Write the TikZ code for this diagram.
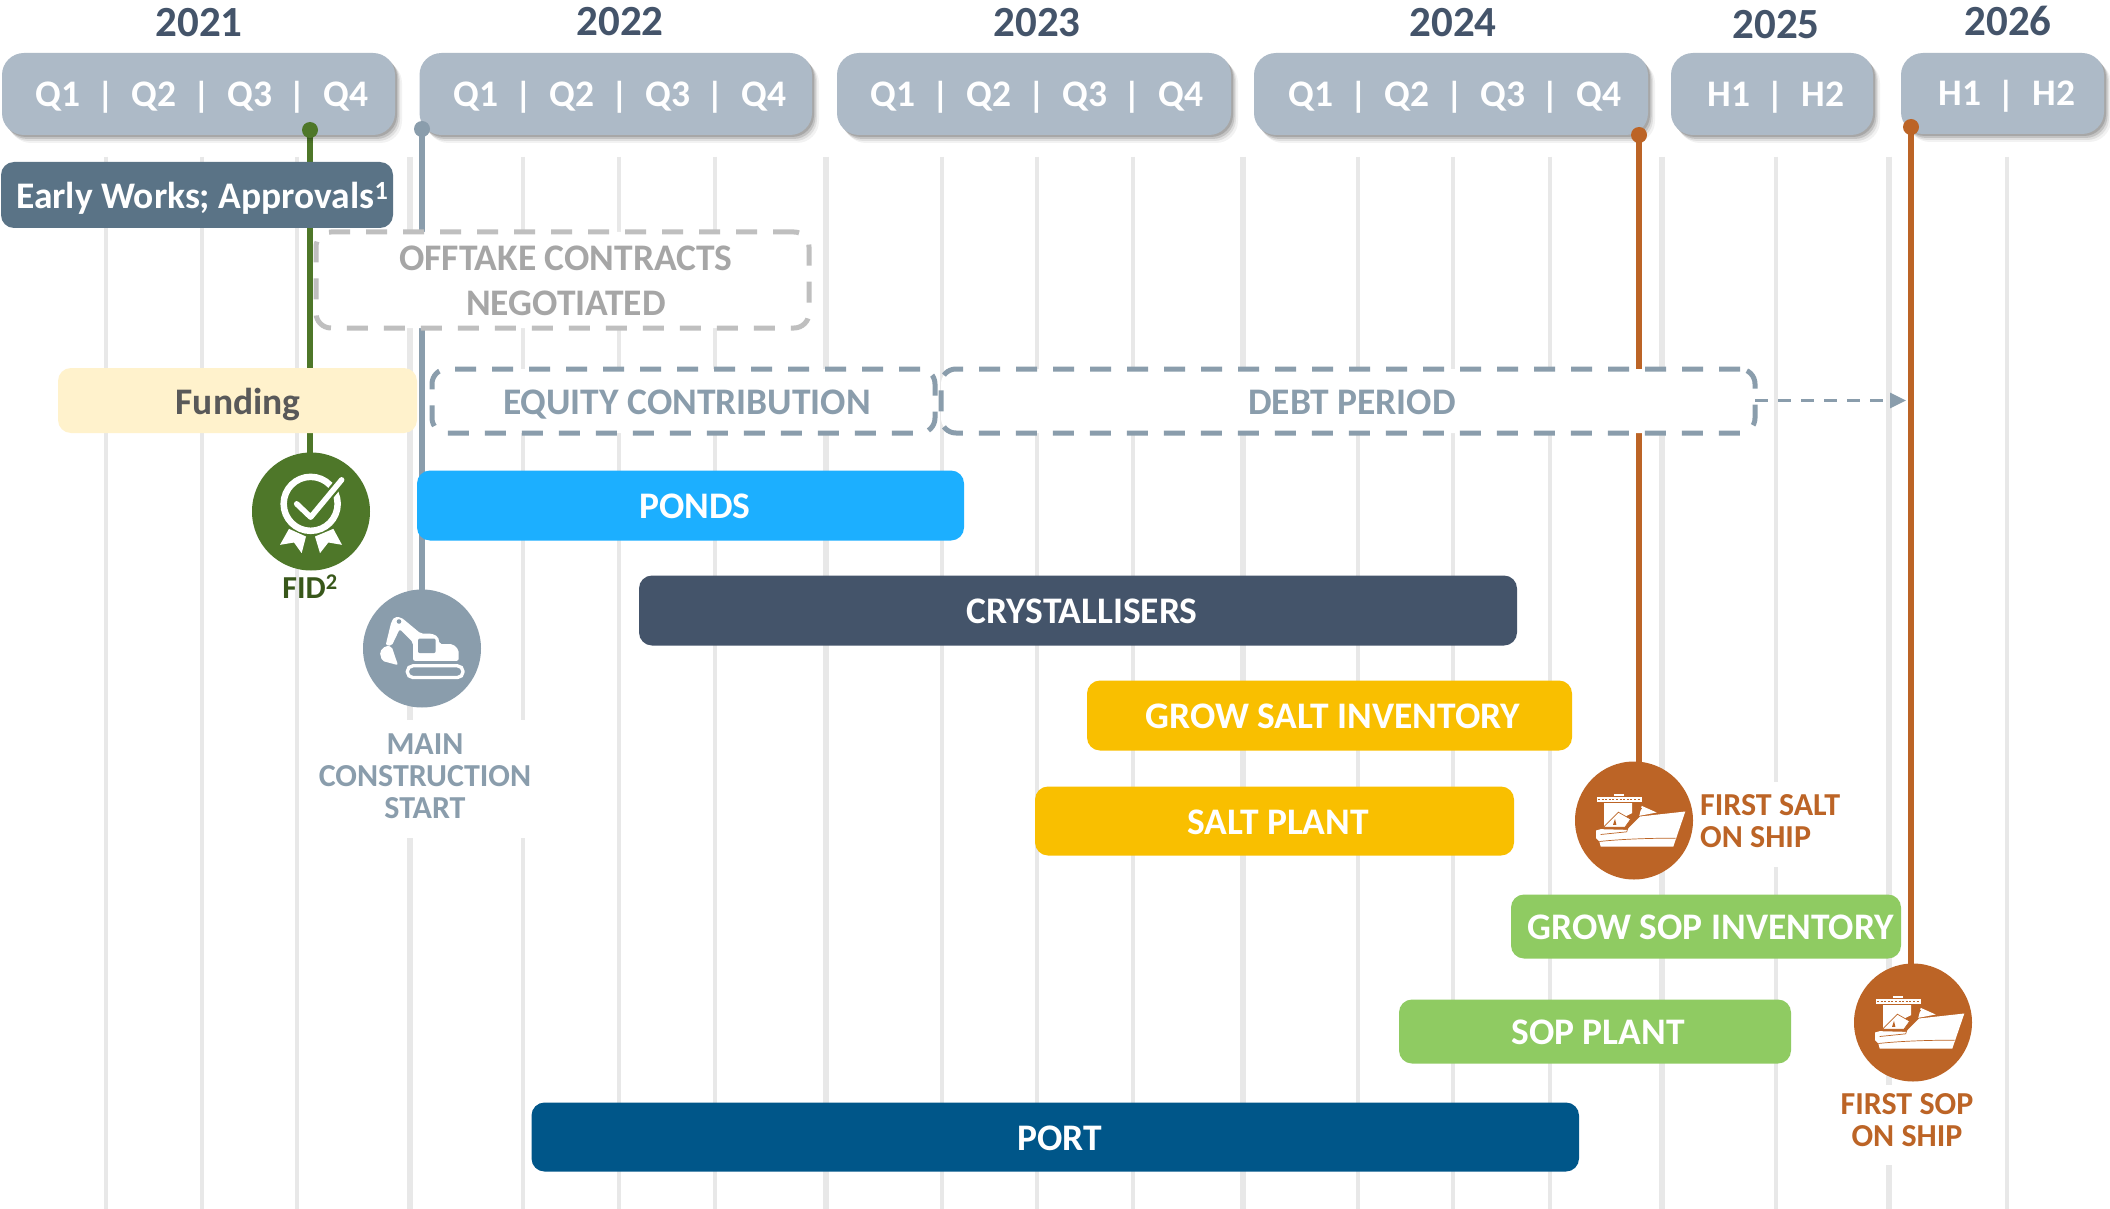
\documentclass[tikz,border=0pt]{standalone}
\usepackage{fontspec}
\setmainfont{Carlito}
\usetikzlibrary{shadows,arrows.meta}
\definecolor{hdrc}{HTML}{ADBAC7}
\definecolor{yearc}{HTML}{44546A}
\definecolor{gridc}{HTML}{E8E8E8}
\definecolor{earlyc}{HTML}{5A7386}
\definecolor{fundc}{HTML}{FFF2CC}
\definecolor{fundt}{HTML}{595959}
\definecolor{slatec}{HTML}{8A9DAC}
\definecolor{offb}{HTML}{BFBFBF}
\definecolor{offt}{HTML}{A6A6A6}
\definecolor{pondc}{HTML}{1CAFFF}
\definecolor{crysc}{HTML}{44546A}
\definecolor{yellc}{HTML}{F9BF00}
\definecolor{grnc}{HTML}{8FCB62}
\definecolor{portc}{HTML}{005689}
\definecolor{fidc}{HTML}{4E7729}
\definecolor{fidt}{HTML}{38571A}
\definecolor{orgc}{HTML}{BC6426}
\newcommand\barbox[6]{%
  \pgfmathsetmacro\bw{#5-#3}\pgfmathsetmacro\bh{#6-#4}%
  \pgfmathsetmacro\cx{(#5+#3)/2}\pgfmathsetmacro\cy{(#6+#4)/2}%
  \node[#1,minimum width=\bw pt,minimum height=\bh pt] (#2) at (\cx,\cy) {};}
\newcommand\shipicon[1]{%
  \begin{scope}[shift={(#1.center)},x=0.3333pt,y=-0.3333pt]
    \fill[white] (-60,-80) rectangle (-30,-75);
    \fill[white] (-112,-72) rectangle (23,-57);
    \draw[orgc,line width=0.7pt,dash pattern=on 2pt off 1.6pt] (-108,-64) -- (20,-64);
    \fill[white] (-90,-52) -- (-6,-52) -- (-6,-22) -- (-90,20) -- cycle;
    \fill[white] (23,-44) -- (68,-24) -- (16,-14) -- cycle;
    \fill[white] (-114,30) -- (-100,26) -- (-22,28) -- (18,-12) -- (154,-27) -- (118,78) -- (-100,78) -- (-104,63) -- (-114,53) -- cycle;
    \draw[orgc,line width=0.7pt,fill=white] (-92,20) -- (-47,-25) -- (-10,-4) -- (-27,20) -- cycle;
    \fill[orgc] (-63,13) -- (-57,-5) -- (-53,13) -- cycle;
    \draw[orgc,line width=0.8pt] (-12,3) -- (23,-37);
    \draw[orgc,line width=0.7pt] (-100,42) -- (-22,34) -- (-12,3);
    \draw[orgc,line width=0.7pt] (-104,63) .. controls (-40,56) and (40,53) .. (125,53);
  \end{scope}}
\begin{document}
\begin{tikzpicture}[x=1pt,y=-1pt,
  gridthin/.style={gridc,line width=4pt},
  gridthick/.style={gridc,line width=6pt},
  hdr/.style={fill=hdrc,rounded corners=22pt,inner sep=0pt,outer sep=0pt,
    general shadow={fill=black,opacity=0.05,shadow xshift=7pt,shadow yshift=-8pt},
    general shadow={fill=black,opacity=0.08,shadow xshift=5pt,shadow yshift=-6pt},
    general shadow={fill=black,opacity=0.12,shadow xshift=3.5pt,shadow yshift=-4pt},
    general shadow={fill=black,opacity=0.14,shadow xshift=2pt,shadow yshift=-2pt}},
  barb/.style={rounded corners=13pt,inner sep=0pt,outer sep=0pt},
  dbox/.style={barb,fill=white,line width=5pt,dash pattern=on 21pt off 16pt,rounded corners=15pt},
  lab/.style={inner sep=0pt,anchor=base,font=\fontsize{37.5}{37.5}\bfseries\selectfont,yshift=-12pt,xshift=1pt},
  wlab/.style={lab,white},
  sep/.style={inner sep=0pt,anchor=center,white,font=\fontsize{36}{36}\bfseries\selectfont},
  yr/.style={inner sep=0pt,anchor=base,yearc,font=\fontsize{43}{43}\bfseries\selectfont,yshift=-15pt,xshift=1pt},
  mlab/.style={inner sep=0pt,align=center,font=\fontsize{32}{32}\bfseries\selectfont},
  circ/.style={circle,minimum size=118pt,inner sep=0pt,outer sep=0pt},
  dotn/.style={circle,minimum size=16pt,inner sep=0pt,outer sep=0pt}]
\useasboundingbox (0,0) rectangle (2110,1209);
\fill[white] (0,0) rectangle (2110,1209);
% grid
\foreach \x in {106,202,297,523,619,715,942,1037,1133,1358,1453,1550,1776,2007}
  \draw[gridthin] (\x,157) -- (\x,1209);
\foreach \x in {410,826,1243,1662,1889}
  \draw[gridthick] (\x,157) -- (\x,1209);
% white patches behind labels
\fill[white] (299,720) rectangle (535,838);
\fill[white] (1700,782) rectangle (1850,867);
\fill[white] (1830,1085) rectangle (1960,1165);
% milestone nodes
\node[circ,fill=fidc] (cFID) at (311,511.5) {};
\node[circ,fill=slatec] (cMain) at (422,648.5) {};
\node[circ,fill=orgc] (cSalt) at (1634,820.5) {};
\node[circ,fill=orgc] (cSop) at (1913,1022.5) {};
\coordinate (tFID) at (310,130);
\coordinate (tMain) at (422,129);
\coordinate (tSalt) at (1639,135);
\coordinate (tSop) at (1911,127);
\draw[fidc,line width=5.5pt] (tFID) -- (tFID |- cFID.north);
\draw[slatec,line width=5.5pt] (tMain) -- (cMain.north);
\draw[orgc,line width=6pt] (tSalt) -- (tSalt |- cSalt.north);
\draw[orgc,line width=6pt] (tSop) -- (tSop |- cSop.north);
% header bars
\barbox{hdr}{h21}{2}{53}{395}{135}
\barbox{hdr}{h22}{419.5}{53}{812}{135}
\barbox{hdr}{h23}{837}{53}{1231}{135}
\barbox{hdr}{h24}{1254}{53}{1648}{135}
\barbox{hdr}{h25}{1671}{53}{1873}{135}
\barbox{hdr}{h26}{1901}{53}{2104}{134}
% years
\node[yr] (y21) at (198,22) {2021};
\node[yr] (y22) at (619,20.5) {2022};
\node[yr] (y23) at (1036,22) {2023};
\node[yr] (y24) at (1452,22) {2024};
\node[yr] (y25) at (1775,23.5) {2025};
\node[yr] (y26) at (2007,20.7) {2026};
% quarters
\foreach \o/\g in {0/a,418/b,835/c,1253/d}{
  \node[wlab] (q1\g) at ({57+\o},95) {Q1};
  \node[wlab] (q2\g) at ({153+\o},95) {Q2};
  \node[wlab] (q3\g) at ({249+\o},95) {Q3};
  \node[wlab] (q4\g) at ({345+\o},95) {Q4};
  \node[sep] (s1\g) at ({105.5+\o},97.5) {|};
  \node[sep] (s2\g) at ({201.5+\o},97.5) {|};
  \node[sep] (s3\g) at ({297+\o},97.5) {|};
}
\node[wlab] (h1e) at (1728,95) {H1};
\node[sep] (hse) at (1775,97.5) {|};
\node[wlab] (h2e) at (1822,95) {H2};
\node[wlab] (h1f) at (1959,94) {H1};
\node[sep] (hsf) at (2006,96.5) {|};
\node[wlab] (h2f) at (2053,94) {H2};
% dots
\node[dotn,fill=fidc] (dFID) at (tFID) {};
\node[dotn,fill=slatec] (dMain) at (tMain) {};
\node[dotn,fill=orgc] (dSalt) at (tSalt) {};
\node[dotn,fill=orgc] (dSop) at (tSop) {};
% bars
\barbox{barb,fill=earlyc}{early}{1}{162}{393}{228}
\node[wlab,anchor=base west] (earlyt) at (15,197) {Early Works; Approvals\textsuperscript{1}};
\barbox{dbox,draw=offb}{off}{316}{232}{809}{328}
\node[inner sep=0pt,align=center,offt,font=\fontsize{37.5}{45}\bfseries\selectfont] (offl) at (566,281) {OFFTAKE CONTRACTS\\NEGOTIATED};
\barbox{barb,fill=fundc}{fund}{58}{368}{417}{433}
\node[lab,fundt] (fundt) at (237,402) {Funding};
\barbox{dbox,draw=slatec}{equity}{432}{369}{935}{433}
\node[lab,slatec] (eqt) at (686,402) {EQUITY CONTRIBUTION};
\barbox{dbox,draw=slatec}{debt}{941}{369}{1755}{433}
\node[lab,slatec] (dbt) at (1351,402) {DEBT PERIOD};
\coordinate (arrowend) at (1906,400.5);
\draw[slatec,line width=3pt,dash pattern=on 13pt off 10pt,-{Triangle[length=16pt,width=15pt,fill=slatec]}] (debt.east |- arrowend) -- (arrowend);
\barbox{barb,fill=pondc}{ponds}{417}{470.5}{964}{540.5}
\node[wlab] (pondt) at (694,506) {PONDS};
\barbox{barb,fill=crysc}{crys}{639}{575.5}{1517}{645.5}
\node[wlab] (cryt) at (1081,611) {CRYSTALLISERS};
\barbox{barb,fill=yellc}{gsalt}{1087}{680.5}{1572}{750.5}
\node[wlab] (gst) at (1332,716) {GROW SALT INVENTORY};
\barbox{barb,fill=yellc}{splant}{1035}{786.5}{1514}{855.5}
\node[wlab] (spt) at (1277,822) {SALT PLANT};
\barbox{barb,fill=grnc}{gsop}{1511}{894.5}{1901}{958.5}
\node[wlab] (gsot) at (1710,927.5) {GROW SOP INVENTORY};
\barbox{barb,fill=grnc}{soplant}{1399}{999.5}{1791}{1063.5}
\node[wlab] (sopt) at (1597,1032) {SOP PLANT};
\barbox{barb,fill=portc}{port}{531.5}{1102.5}{1579}{1171.5}
\node[wlab] (portt) at (1059,1138) {PORT};
% FID icon
\begin{scope}[shift={(cFID.center)},x=0.3333pt,y=-0.3333pt]
  \draw[white,line width=6.5pt] (-1,-23) circle[radius=27pt];
  \draw[fidc,line width=10pt,line join=round,line cap=round] (-43,-23) -- (-1,17) -- (92,-95);
  \draw[white,line width=5.5pt,line join=round,line cap=round] (-43,-23) -- (-1,17) -- (92,-95);
  \fill[white] (-93,100) -- (-66,52) -- (-15,75) -- (-28,125) -- (-51,93) -- cycle;
  \fill[white] (12,75) -- (67,52) -- (93,100) -- (52,93) -- (27,125) -- cycle;
\end{scope}
% excavator icon
\begin{scope}[shift={(cMain.center)},x=0.3333pt,y=-0.3333pt]
  \draw[white,line width=3.3pt,rounded corners=5.5pt] (-44,52) rectangle (123,87);
  \fill[white,rounded corners=2pt] (-27,37) -- (110,37) -- (110,4) -- (93,-13) -- (53,-13) -- (48,-36) -- (28,-45) -- (-4,-45) -- (-62,-93) -- (-82,-95) -- (-92,-80) -- (-109,-10) -- (-91,-8) -- (-67,-58) -- (-27,-18) -- cycle;
  \fill[white,rounded corners=2pt] (-110,-8) -- (-127,10) -- (-120,37) -- (-72,50) -- (-91,-6) -- cycle;
  \fill[slatec] (-69,-81) circle[radius=2.3pt];
  \fill[slatec,rounded corners=2pt] (-12,-30) rectangle (41,14);
\end{scope}
\shipicon{cSalt}
\shipicon{cSop}
% milestone labels
\node[mlab,fidt] (fidl) at (310,587) {FID\textsuperscript{2}};
\node[mlab,slatec] (mainl) at (425,776.5) {MAIN\\CONSTRUCTION\\START};
\node[mlab,orgc,align=left,anchor=west] (saltl) at (1700,821.5) {FIRST SALT\\ON SHIP};
\node[mlab,orgc] (sopl) at (1907,1120.5) {FIRST SOP\\ON SHIP};
\end{tikzpicture}
\end{document}
